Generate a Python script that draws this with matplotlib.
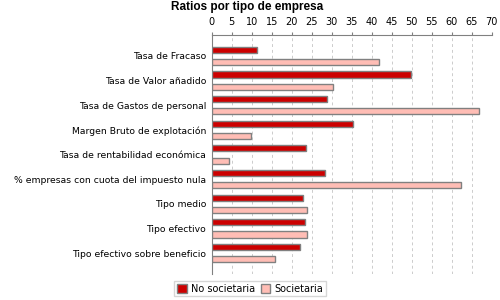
import numpy as np
import matplotlib
matplotlib.use("Agg")
import matplotlib.pyplot as plt

# data
categories = ["Tasa de Fracaso", "Tasa de Valor añadido", "Tasa de Gastos de personal",
              "Margen Bruto de explotación", "Tasa de rentabilidad económica",
              "% empresas con cuota del impuesto nula", "Tipo medio", "Tipo efectivo",
              "Tipo efectivo sobre beneficio"]
no_societaria = [11.4, 49.8, 28.7, 35.2, 23.5, 28.4, 22.7, 23.2, 22.0]
societaria = [41.8, 30.2, 66.8, 9.9, 4.4, 62.3, 23.7, 23.7, 15.7]
series_names = ["No societaria", "Societaria"]

fig = plt.figure(figsize=(5, 3), dpi=100)
ax = fig.add_axes([211.7/500, 1-274/300, 280/500, 239/300])

y = np.arange(len(categories))
h = 0.25
ax.barh(y - h, no_societaria, height=h, color="#CC0000", edgecolor="#808080",
        linewidth=1, label=series_names[0], zorder=3)
ax.barh(y + h, societaria, height=h, color="#FFBDB5", edgecolor="#808080",
        linewidth=1, label=series_names[1], zorder=3)

ax.set_xlim(0, 70)
ax.set_ylim(len(categories) - 1 + 0.85, -0.85)
ax.set_xticks(np.arange(0, 71, 5))
ax.xaxis.tick_top()
ax.tick_params(axis="x", length=2, color="#808080", labelsize=7, pad=3.5)
ax.set_yticks(y)
ax.set_yticklabels(categories, fontsize=6.7)
ax.tick_params(axis="y", length=0, pad=4)
ax.grid(axis="x", color="#cccccc", linestyle=(0, (3, 3)), linewidth=0.7, zorder=0)

for side in ["right", "bottom"]:
    ax.spines[side].set_visible(False)
for side in ["top", "left"]:
    ax.spines[side].set_color("#808080")

fig.suptitle("Ratios por tipo de empresa", x=0.495, y=0.997, fontsize=8.5,
             fontweight="bold", family="Liberation Sans")

fig.legend(loc="center", bbox_to_anchor=(0.5, 1-288.5/300), ncol=2, fontsize=7,
           frameon=True, fancybox=False, edgecolor="#cccccc", handlelength=1.0,
           handleheight=1.0, handletextpad=0.4, columnspacing=0.6, borderpad=0.3)

fig.savefig("out.png", dpi=100)
